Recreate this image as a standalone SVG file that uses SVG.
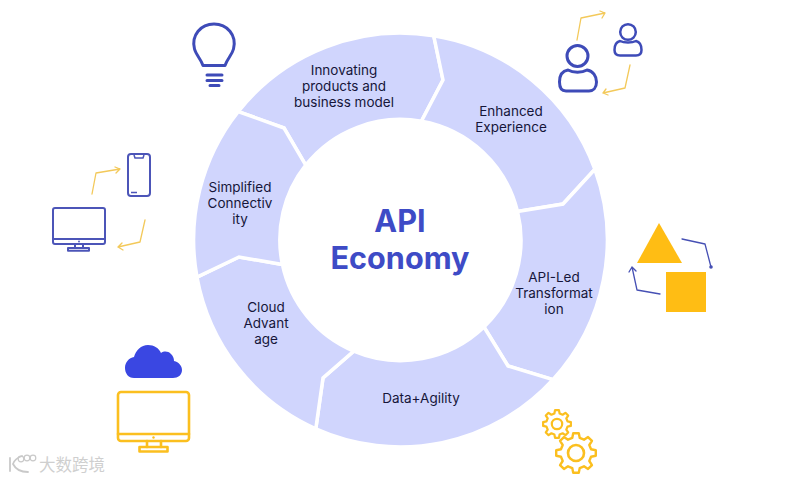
<svg xmlns="http://www.w3.org/2000/svg" width="800" height="480" viewBox="0 0 800 480">
<style>
.seg{fill:#d0d5fd;stroke:#fff;stroke-width:3.5;stroke-linejoin:miter}
.lab{font-family:"Inter","Liberation Sans",sans-serif;font-size:13.5px;fill:#16163a;text-anchor:middle}
.title{font-family:"Inter","Liberation Sans",sans-serif;font-size:30.6px;font-weight:700;fill:#3e4bc6;text-anchor:middle}
.blue{fill:none;stroke:#3e4bb8;stroke-width:3;stroke-linecap:round;stroke-linejoin:round}
.small{stroke-width:2.500}
.thin{fill:none;stroke:#4c55b8;stroke-width:2;stroke-linecap:round;stroke-linejoin:round}
.hair{fill:none;stroke:#4c55b8;stroke-width:1.500}
.yel{fill:none;stroke:#fbbf1f;stroke-width:2.600;stroke-linecap:round;stroke-linejoin:round}
.arr{fill:none;stroke:#f3c95a;stroke-width:1.300;stroke-linecap:round;stroke-linejoin:round}
.arb{fill:none;stroke:#4650b4;stroke-width:1.300;stroke-linecap:round;stroke-linejoin:round}
.wm{fill:none;stroke:#c9c9c9;stroke-width:1.800;stroke-linecap:round}
.wmc{fill:none;stroke:#c9c9c9;stroke-width:1.200}
</style>
<defs>
<path id="gear" d="M15.04-3.75L19.8-2.78L19.8 2.78L15.04 3.75L13.29 7.98L15.97 12.04L12.04 15.97L7.98 13.29L3.75 15.04L2.78 19.8L-2.78 19.8L-3.75 15.04L-7.98 13.29L-12.04 15.97L-15.97 12.04L-13.29 7.98L-15.04 3.75L-19.8 2.78L-19.8-2.78L-15.04-3.75L-13.29-7.98L-15.97-12.04L-12.04-15.97L-7.98-13.29L-3.75-15.04L-2.78-19.8L2.78-19.8L3.75-15.04L7.98-13.29L12.04-15.97L15.97-12.04L13.29-7.98Z"/>
</defs>

<g id="connectors">
<path class="arr" d="M577 40L581 18L605 13M600 11L605 13L602 18"/>
<path class="arr" d="M630 65L625 88L603 93M608 95L603 93L606 89"/>
<path class="arr" d="M92 194L96 173L120 169M115 167L120 169L116 173"/>
<path class="arr" d="M145 220L140 242L118 247M123 250L118 247L122 243"/>
<path class="arb" d="M682 239L705 244L711 267"/>
<circle cx="711" cy="267" r="1.800" fill="#4650b4"/>
<path class="arb" d="M660 294L637 290L632 267M629 272L632 267L636 271"/>
</g>

<g id="node-innovating">
<path class="seg" d="M238.2 111.6A206.75 206.75 0 0 1 433.7 35.7L443 80L421.4 121.3A120.5 120.5 0 0 0 305.7 165.2L284 128Z"/>
<text class="lab" x="344" y="75">Innovating</text>
<text class="lab" x="344" y="91">products and</text>
<text class="lab" x="344" y="107">business model</text>
</g>
<g id="node-enhanced">
<path class="seg" d="M433.7 35.7A206.75 206.75 0 0 1 594.9 169.3L563 204L517.5 211.4A120.5 120.5 0 0 0 421.4 121.3L443 80Z"/>
<text class="lab" x="511" y="116">Enhanced</text>
<text class="lab" x="511" y="132">Experience</text>
</g>
<g id="node-api-led">
<path class="seg" d="M594.9 169.3A206.75 206.75 0 0 1 552.9 379.7L508 366L484 327A120.5 120.5 0 0 0 517.5 211.4L563 204Z"/>
<text class="lab" x="554" y="282">API-Led</text>
<text class="lab" x="554" y="298">Transformat</text>
<text class="lab" x="554" y="314">ion</text>
</g>
<g id="node-data">
<path class="seg" d="M552.9 379.7A206.75 206.75 0 0 1 315.8 428.8L323 378L353.8 351.1A120.5 120.5 0 0 0 484 327L508 366Z"/>
<text class="lab" x="421" y="403">Data+Agility</text>
</g>
<g id="node-cloud">
<path class="seg" d="M315.8 428.8A206.75 206.75 0 0 1 197 277.2L239 257L282.4 264.5A120.5 120.5 0 0 0 353.8 351.1L323 378Z"/>
<text class="lab" x="266" y="312">Cloud</text>
<text class="lab" x="266" y="328">Advant</text>
<text class="lab" x="266" y="344">age</text>
</g>
<g id="node-simplified">
<path class="seg" d="M197 277.2A206.75 206.75 0 0 1 238.2 111.6L284 128L305.7 165.2A120.5 120.5 0 0 0 282.4 264.5L239 257Z"/>
<text class="lab" x="240" y="192">Simplified</text>
<text class="lab" x="240" y="208">Connectiv</text>
<text class="lab" x="240" y="224">ity</text>
</g>

<g id="node-title">
<text class="title" x="400" y="232">API</text>
<text class="title" x="400" y="269">Economy</text>
</g>

<g id="icon-bulb">
<path class="blue" d="M203 65.500C201 59 196 55 194.500 49C191 35 201 24 214 24C227 24 237 35 233.500 49C232 55 227 59 225 65.500Z"/>
<path class="blue" d="M207 75H222M207 80.500H222M210 85.500H219"/>
</g>
<g id="icon-users">
<circle class="blue" cx="577.500" cy="56" r="10.500"/>
<path class="blue" d="M568 70C573 73 582 73 587 70C593 71 596.500 76 596.500 82C596.500 88 593 91 589 91H566C562 91 559.500 88 559.500 82C559.500 76 562 71 568 70Z"/>
<circle class="blue small" cx="628" cy="32" r="7.800"/>
<path class="blue small" d="M620 41C624 43 632 43 636 41C640 42 641.500 46 641.500 50C641.500 54 639 55.500 636 55.500H620C617 55.500 614.500 54 614.500 50C614.500 46 616 42 620 41Z"/>
</g>
<g id="icon-devices">
<rect class="thin" x="128" y="154" width="22" height="42" rx="3"/>
<path class="hair" d="M134 155L135 158H143L144 155M131 192.500H137"/>
<rect class="thin" x="53" y="208" width="52" height="36" rx="2"/>
<path class="thin" d="M53 239H105M75 244V248M83 244V248"/>
<rect class="thin" x="68" y="248" width="21" height="2.800"/>
<circle cx="79" cy="241.500" r="0.900" fill="#4c55b8"/>
</g>
<g id="icon-cloud">
<path fill="#3a47e2" d="M134 378C128 378 125 373 125 368C125 362 129 358 134 357C136 350 141 345 148 345C154 345 159 348 161 353C164 351 168 351 171 354C173 356 174 358 174 361C179 362 182 366 182 370C182 375 178 378 173 378Z"/>
</g>
<g id="icon-monitor">
<rect class="yel" x="118" y="392" width="71" height="49" rx="3"/>
<path class="yel" d="M118 434H189M147 441V447M161 441V447"/>
<rect class="yel" x="139.500" y="447" width="28" height="4.500"/>
<circle cx="153.500" cy="437.500" r="1.200" fill="#fbbf1f"/>
</g>
<g id="icon-gears">
<use href="#gear" class="yel" transform="translate(557 424) scale(.7)" style="stroke-width:3.200"/>
<circle class="yel" cx="557" cy="424" r="5.200" style="stroke-width:2.200"/>
<use href="#gear" class="yel" transform="translate(576 453)" style="stroke-width:2.400"/>
<circle class="yel" cx="576" cy="453" r="8"/>
</g>
<g id="icon-shapes">
<path fill="#ffbd14" d="M659 223L637 263H682Z"/>
<rect x="666" y="272" width="40" height="40" fill="#ffbd14"/>
</g>
<g id="watermark">
<path class="wm" d="M10 458V471M22 456C16 458 14 461 13 464C15 468 20 472 28 472"/>
<circle class="wmc" cx="21" cy="459" r="2.800"/>
<circle class="wmc" cx="27" cy="458" r="2.800"/>
<circle class="wmc" cx="33" cy="458" r="2.800"/>
<text x="39" y="471" font-family="'Noto Sans CJK SC',sans-serif" font-size="16.500" fill="#cfcfcf">大数跨境</text>
</g>
</svg>
